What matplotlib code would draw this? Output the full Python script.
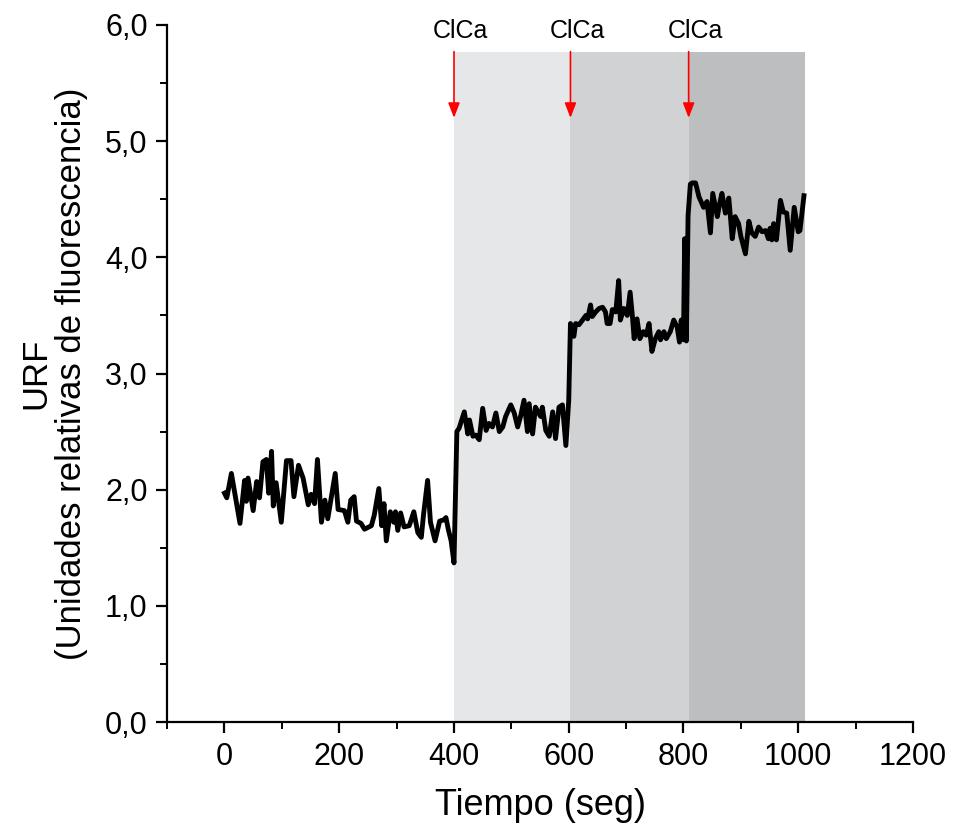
import matplotlib
matplotlib.use("Agg")
import matplotlib.pyplot as plt
from matplotlib.ticker import MultipleLocator, FuncFormatter

plt.rcParams['font.family'] = ['Liberation Sans', 'DejaVu Sans']

# tiempo (seg) y URF
tiempo = [0, 4, 12, 27, 35, 38, 41, 50, 56, 61, 67, 73, 77, 82, 85, 90, 99, 108, 116, 121,
          129, 137, 146, 151, 157, 162, 169, 175, 180, 193, 198, 209, 215, 220, 226, 230,
          238, 244, 256, 261, 269, 274, 278, 282, 289, 295, 298, 302, 307, 313, 322, 330,
          337, 343, 347, 354, 359, 367, 375, 382, 386, 390, 395, 400,
          405, 409, 418, 424, 427, 433, 438, 444, 450, 456, 461, 467, 473, 479, 485, 490,
          499, 505, 511, 516, 522, 528, 531, 537, 542, 551, 554, 560, 566, 572, 577, 583,
          589, 595, 600,
          603, 609, 612, 618, 624, 630, 633, 638, 641, 647, 653, 659, 664, 667, 672, 676,
          682, 687, 690, 696, 702, 707, 711, 714, 719, 724, 730, 735, 740, 745, 751, 757,
          760, 766, 770, 777, 783, 789, 793, 796, 800,
          802, 805, 808, 812, 815, 821, 827, 835, 841, 847, 851, 859, 863, 867, 873, 879,
          885, 890, 896, 900, 908, 914, 919, 925, 931, 937, 943, 948, 951, 954, 957, 962,
          969, 974, 980, 986, 993, 1000, 1003, 1010]
urf = [1.97, 1.93, 2.14, 1.71, 2.08, 1.90, 2.10, 1.82, 2.07, 1.93, 2.24, 2.26, 1.97, 2.33, 1.86,
       2.06, 1.72, 2.25, 2.25, 1.94, 2.21, 2.10, 1.87, 1.96, 1.88, 2.26, 1.72, 1.91, 1.75, 2.14,
       1.83, 1.82, 1.72, 1.91, 1.94, 1.73, 1.71, 1.66, 1.69, 1.78, 2.01, 1.69, 1.88, 1.56, 1.81,
       1.72, 1.81, 1.65, 1.80, 1.68, 1.69, 1.81, 1.63, 1.59, 1.79, 2.08, 1.72, 1.56, 1.73, 1.74,
       1.76, 1.66, 1.56, 1.37,
       2.50, 2.53, 2.67, 2.48, 2.60, 2.46, 2.47, 2.43, 2.70, 2.51, 2.57, 2.54, 2.66, 2.50, 2.54,
       2.63, 2.73, 2.66, 2.54, 2.63, 2.77, 2.50, 2.74, 2.48, 2.71, 2.63, 2.71, 2.51, 2.46, 2.67,
       2.44, 2.71, 2.73, 2.38, 2.77,
       3.43, 3.32, 3.43, 3.42, 3.46, 3.50, 3.47, 3.59, 3.49, 3.53, 3.56, 3.57, 3.53, 3.43, 3.43,
       3.55, 3.53, 3.80, 3.46, 3.56, 3.50, 3.70, 3.49, 3.30, 3.47, 3.30, 3.36, 3.33, 3.43, 3.19,
       3.30, 3.36, 3.29, 3.36, 3.30, 3.36, 3.46, 3.40, 3.27, 3.46, 3.29,
       4.16, 3.28, 4.36, 4.63, 4.64, 4.64, 4.52, 4.43, 4.48, 4.21, 4.55, 4.35, 4.46, 4.55, 4.38,
       4.51, 4.16, 4.35, 4.29, 4.18, 4.03, 4.31, 4.21, 4.18, 4.26, 4.22, 4.23, 4.16, 4.25, 4.15,
       4.29, 4.15, 4.49, 4.39, 4.38, 4.06, 4.43, 4.22, 4.23, 4.53]

# zonas sombreadas (adiciones de ClCa)
zonas = [(400, 603), (603, 809), (809, 1012)]
colores_zona = ['#e6e7e8', '#d1d2d4', '#bcbec0']
adiciones = [400, 603, 809]
etiqueta = 'ClCa'

fig = plt.figure(figsize=(9.55, 8.3), dpi=100)
ax = fig.add_axes([0.175, 0.130, 0.781, 0.840])

for (a, b), c in zip(zonas, colores_zona):
    ax.axvspan(a, b, ymin=0, ymax=5.77 / 6, color=c, lw=0, zorder=0)

ax.plot(tiempo, urf, color='black', lw=3.5, zorder=3)

for xa in adiciones:
    ax.annotate('', xy=(xa, 5.2), xytext=(xa, 5.77),
                arrowprops=dict(arrowstyle='-|>,head_length=0.9,head_width=0.35',
                                color='red', lw=1.2, shrinkA=0, shrinkB=0),
                annotation_clip=False, zorder=4)
    ax.text(xa + 12, 5.95, etiqueta, ha='center', va='center', fontsize=18)

ax.set_xlim(-100, 1200)
ax.set_ylim(0, 6)
ax.xaxis.set_major_locator(MultipleLocator(200))
ax.xaxis.set_minor_locator(MultipleLocator(100))
ax.yaxis.set_major_locator(MultipleLocator(1))
ax.yaxis.set_minor_locator(MultipleLocator(0.5))
ax.yaxis.set_major_formatter(FuncFormatter(lambda v, p: f"{v:.1f}".replace('.', ',')))

ax.spines['top'].set_visible(False)
ax.spines['right'].set_visible(False)
for s in ['left', 'bottom']:
    ax.spines[s].set_linewidth(1.6)
ax.tick_params(which='major', direction='out', length=8, width=1.6, labelsize=22, pad=6)
ax.tick_params(which='minor', direction='out', length=5, width=1.4)

ax.set_xlabel('Tiempo (seg)', fontsize=26, labelpad=12)
ax.set_ylabel('URF\n(Unidades relativas de fluorescencia)', fontsize=25, labelpad=12,
              linespacing=1.1)

fig.savefig('out.png', dpi=100)
